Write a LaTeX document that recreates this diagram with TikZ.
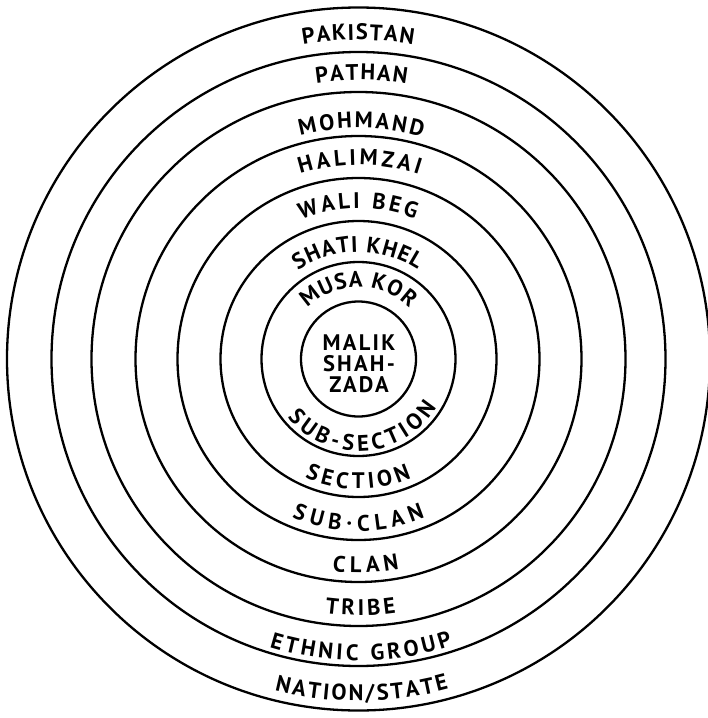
\documentclass[tikz,border=0pt]{standalone}
\usepackage{fontspec}
\setmainfont{PT Sans}
\usetikzlibrary{decorations.text}
\newcommand\lab{\fontsize{22.5}{21}\selectfont\bfseries}
\newcommand\arclabel[4]{%
  \path[decorate, decoration={text along path, text={|\lab|#1}, text align={fit to path}}]
    (C) ++(#3:#2pt) arc[start angle=#3, end angle=#4, radius=#2pt];}
\tikzset{ring/.style={draw=black, line width=2.3pt}}
\begin{document}
\begin{tikzpicture}[x=1pt, y=1pt]
\useasboundingbox (0,0) rectangle (708,-718);
\coordinate (C) at (358.5,-359);
\foreach \r in {57.5,97,138,181,223,267,307,351.5}
  \draw[ring] (C) circle[radius=\r pt];
% top labels
\arclabel{PAKISTAN}{319}{100}{80.1}
\arclabel{PATHAN}{279}{98.7}{80.1}
\arclabel{MOHMAND}{231}{104.6}{74}
\arclabel{HALIMZAI}{194}{107.5}{71.8}
\arclabel{WALI BEG}{151}{112.3}{68}
\arclabel{SHATI KHEL}{107}{124.5}{56.5}
\arclabel{MUSA KOR}{72}{135}{45}
% bottom labels
\arclabel{SUB-SECTION}{92}{219.5}{328}
\arclabel{SECTION}{130}{245.7}{294}
\arclabel{SUB·CLAN}{172}{247.2}{292.7}
\arclabel{CLAN}{213.5}{263}{281}
\arclabel{TRIBE}{256.5}{262.5}{278.4}
\arclabel{ETHNIC GROUP}{301.6}{252.8}{288.2}
\arclabel{NATION/STATE}{342}{255.8}{285.3}
% centre
\node[align=center, font=\lab\addfontfeature{LetterSpace=10}] (core) at (359,-363.5) {MALIK\\SHAH-\\ZADA};
\end{tikzpicture}
\end{document}
